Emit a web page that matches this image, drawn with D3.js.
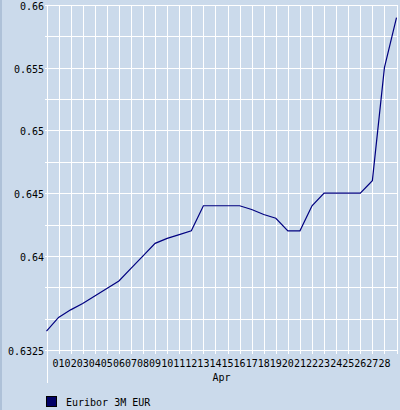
<!DOCTYPE html>
<html>
<head>
<meta charset="utf-8">
<script src="https://cdn.jsdelivr.net/npm/d3@7"></script>
<style>
  html, body { margin: 0; padding: 0; background: #cbdaeb; }
  svg { display: block; }
  text { font-family: "DejaVu Sans Mono", monospace; font-size: 10px; fill: #000; }
</style>
</head>
<body>
<div id="chart"></div>
<script>
// days shown on the x axis (first point is 31 Mar, last is 29 Apr)
const days = ["31", "01", "02", "03", "04", "05", "06", "07", "08", "09", "10",
  "11", "12", "13", "14", "15", "16", "17", "18", "19", "20",
  "21", "22", "23", "24", "25", "26", "27", "28", "29"];
const tickDays = days.slice(1, 29);
const monthLabel = "Apr";

// Euribor 3M EUR values
const euribor = [0.6340, 0.6351, 0.6357, 0.6362, 0.6368, 0.6374, 0.6380, 0.6390, 0.6400, 0.6410,
  0.6414, 0.6417, 0.6420, 0.6440, 0.6440, 0.6440, 0.6440, 0.6437, 0.6433, 0.6430,
  0.6420, 0.6420, 0.6440, 0.6450, 0.6450, 0.6450, 0.6450, 0.6460, 0.6550, 0.6590];
const seriesName = "Euribor 3M EUR";

const yGrid = [0.6325, 0.635, 0.6375, 0.64, 0.6425, 0.645, 0.6475, 0.65, 0.6525, 0.655, 0.6575, 0.66];
const yLabels = [0.6325, 0.64, 0.645, 0.65, 0.655, 0.66];

const width = 400, height = 410;
const margin = { top: 5, bottom: 60, left: 46.5, right: 3.5 };

const svg = d3.select("#chart").append("svg")
  .attr("width", width)
  .attr("height", height);

svg.append("rect").attr("width", width).attr("height", height).attr("fill", "#cbdaeb");
svg.append("rect").attr("width", 2).attr("height", height).attr("fill", "#aec1d8");

const x = d3.scalePoint()
  .domain(days)
  .range([margin.left, width - margin.right]);

const y = d3.scaleLinear()
  .domain([0.6325, 0.66])
  .range([height - margin.bottom, margin.top]);

// grid
const grid = svg.append("g").attr("stroke", "#fff").attr("shape-rendering", "crispEdges");
grid.selectAll(".hg").data(yGrid).join("line")
  .attr("x1", margin.left - 2).attr("x2", width - margin.right)
  .attr("y1", d => Math.round(y(d)) + 0.5).attr("y2", d => Math.round(y(d)) + 0.5);
grid.selectAll(".vg").data(days).join("line")
  .attr("x1", d => Math.round(x(d)) + 0.5).attr("x2", d => Math.round(x(d)) + 0.5)
  .attr("y1", margin.top).attr("y2", y(0.6325) + 4);
// y axis line continues below plot
grid.append("line")
  .attr("x1", Math.round(x(days[0])) + 0.5).attr("x2", Math.round(x(days[0])) + 0.5)
  .attr("y1", margin.top).attr("y2", 383);

// y labels
svg.append("g").selectAll("text").data(yLabels).join("text")
  .attr("x", 44)
  .attr("y", d => Math.round(y(d)) + 4.5)
  .attr("text-anchor", "end")
  .text(d => String(d));

// x labels
svg.append("g").selectAll("text").data(tickDays).join("text")
  .attr("x", d => x(d))
  .attr("y", 366.5)
  .attr("text-anchor", "middle")
  .text(d => d);

svg.append("text")
  .attr("x", (x.range()[0] + x.range()[1]) / 2)
  .attr("y", 380.5)
  .attr("text-anchor", "middle")
  .text(monthLabel);

// line
const line = d3.line()
  .x((d, i) => x(days[i]))
  .y(d => y(d));

svg.append("path")
  .datum(euribor)
  .attr("fill", "none")
  .attr("stroke", "#000080")
  .attr("stroke-width", 1.2)
  .attr("d", line);

// legend
svg.append("rect")
  .attr("x", 46.5).attr("y", 396.5)
  .attr("width", 10).attr("height", 10)
  .attr("fill", "#000066")
  .attr("stroke", "#000");
svg.append("text")
  .attr("x", 66)
  .attr("y", 406)
  .text(seriesName);
</script>
</body>
</html>
